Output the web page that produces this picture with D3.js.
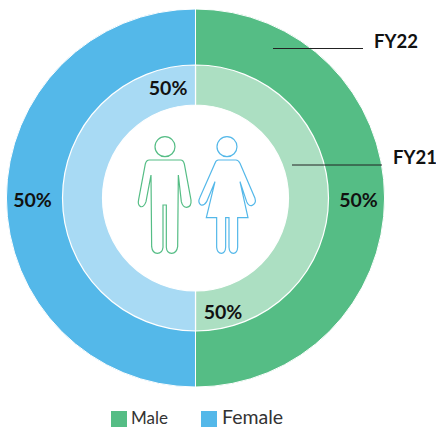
<!DOCTYPE html>
<html lang="en">
<head>
  <meta charset="UTF-8">
  <title>Gender split FY21 FY22</title>
  <script src="https://d3js.org/d3.v7.min.js"></script>
  <style>
    html, body {
      margin: 0;
      padding: 0;
      background: #fff;
      overflow: hidden;
    }

    svg {
      display: block;
    }

    text {
      font-family: Lato, sans-serif;
      fill: #111;
    }

    .pct {
      font-size: 19.5px;
      font-weight: 700;
    }

    .fy {
      font-size: 18.5px;
      font-weight: 700;
    }

    .legend text {
      fill: #333;
    }
  </style>
</head>
<body>
  <svg width="436" height="427"></svg>

  <script>
    const categories = ["Male", "Female"];
    const fy22Values = [50, 50];
    const fy21Values = [50, 50];

    const colors22 = ["#55bd85", "#54b8e9"];
    const colors21 = ["#acdfc2", "#a8daf4"];

    const svg = d3.select("svg");
    const cx = 195.5, cy = 198;

    const g = svg.append("g").attr("transform", `translate(${cx},${cy})`);

    const pie = d3.pie().sort(null);

    const outerArc = d3.arc().innerRadius(132).outerRadius(189);
    const innerArc = d3.arc().innerRadius(93).outerRadius(133);

    g.selectAll("path.fy22")
      .data(pie(fy22Values))
      .enter().append("path")
        .attr("class", "fy22")
        .attr("d", outerArc)
        .attr("fill", (d, i) => colors22[i])
        .attr("stroke", "#fff")
        .attr("stroke-width", 1);

    g.selectAll("path.fy21")
      .data(pie(fy21Values))
      .enter().append("path")
        .attr("class", "fy21")
        .attr("d", innerArc)
        .attr("fill", (d, i) => colors21[i])
        .attr("stroke", "#fff")
        .attr("stroke-width", 1.2);

    // percent labels, placed on the arcs
    const pctFmt = d => d + "%";
    const labelArc22 = d3.arc().innerRadius(163).outerRadius(163);
    const labelArc21 = d3.arc().innerRadius(115).outerRadius(115);

    const drawPct = (vals, arc, rot) => {
      const slices = d3.pie().sort(null).startAngle(rot).endAngle(rot + 2 * Math.PI)(vals);
      g.selectAll(null)
        .data(slices)
        .enter().append("text")
          .attr("class", "pct")
          .attr("text-anchor", "middle")
          .attr("dy", "0.46em")
          .attr("transform", d => `translate(${arc.centroid(d)})`)
          .text(d => pctFmt(d.value));
    };
    drawPct(fy22Values, labelArc22, 0);
    drawPct(fy21Values, labelArc21, 1.33);

    // callouts
    svg.append("line").attr("x1", 273).attr("x2", 363).attr("y1", 48.5).attr("y2", 48.5)
      .attr("stroke", "#222").attr("stroke-width", 1);
    svg.append("line").attr("x1", 292).attr("x2", 382).attr("y1", 165).attr("y2", 165)
      .attr("stroke", "#222").attr("stroke-width", 1);
    svg.append("text").attr("class", "fy").attr("x", 374).attr("y", 48).text("FY22");
    svg.append("text").attr("class", "fy").attr("x", 393).attr("y", 164).text("FY21");

    // people icons, traced at 3x
    const icons = svg.append("g")
      .attr("transform", "translate(120,120) scale(0.3333)")
      .attr("fill", "none")
      .attr("stroke-width", 3.6);

    const man = icons.append("g").attr("stroke", colors22[0]);
    man.append("circle").attr("cx", 135).attr("cy", 80).attr("r", 30);
    man.append("path").attr("d", "M88 120L182 120Q190 120 193 132L213 240Q215 260 200 262Q188 262 184 245L175 165L173 380Q170 400 155 400Q140 400 139 382L139 255L129 255L129 382Q127 400 112 400Q97 400 95 380L93 165L78 245Q72 262 62 260Q52 255 56 238L76 132Q79 120 88 120Z");

    const woman = icons.append("g").attr("stroke", colors22[1]);
    woman.append("circle").attr("cx", 321).attr("cy", 80).attr("r", 30);
    woman.append("path").attr("d", "M295 120L348 120Q355 120 360 130L405 235Q410 250 395 257Q385 258 380 245L360 185L384 293L353 293L353 382Q352 400 340 400Q328 400 327 382L327 293L317 293L317 382Q316 400 304 400Q292 400 290 382L290 293L259 293L285 185L260 245Q252 258 243 255Q232 248 240 232L285 130Q288 120 295 120Z");

    // legend
    const legendX = d3.scaleOrdinal().domain(categories).range([111, 201]);
    const legendFont = d3.scaleOrdinal().domain(categories).range([17, 19.5]);
    const legend = svg.append("g").attr("class", "legend");
    legend.selectAll("rect")
      .data(categories)
      .enter().append("rect")
        .attr("x", d => legendX(d))
        .attr("y", 411)
        .attr("width", 16)
        .attr("height", 16)
        .attr("fill", (d, i) => colors22[i]);
    legend.selectAll("text")
      .data(categories)
      .enter().append("text")
        .attr("x", d => legendX(d) + (d === "Male" ? 20 : 21))
        .attr("y", 424)
        .attr("font-size", d => legendFont(d))
        .text(d => d);
  </script>
</body>
</html>
